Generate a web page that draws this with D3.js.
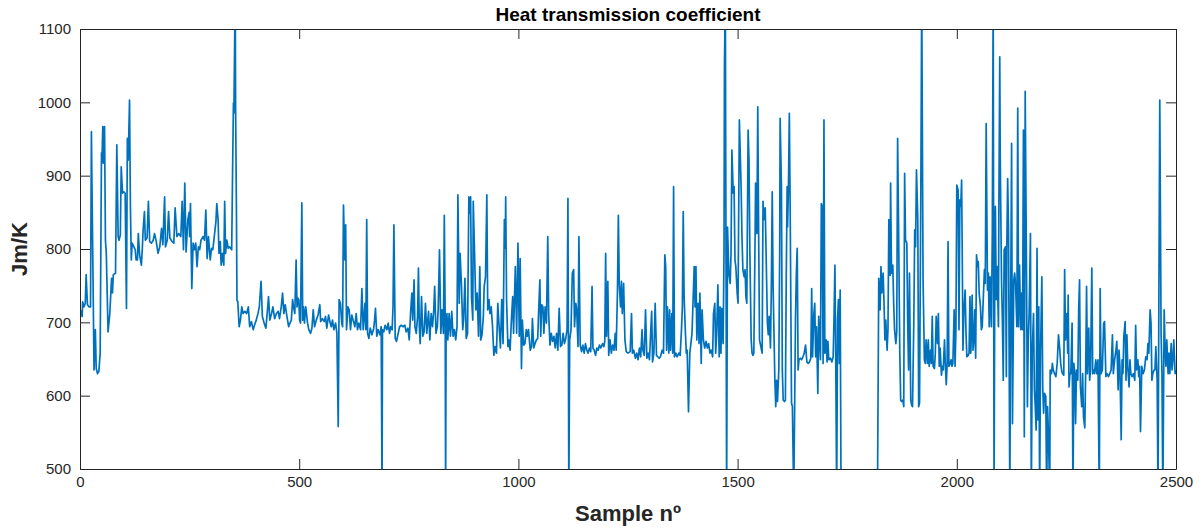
<!DOCTYPE html>
<html>
<head>
<meta charset="utf-8">
<script src="https://cdn.jsdelivr.net/npm/d3@7"></script>
<style>
  body { margin: 0; background: #fff; }
  svg { display: block; font-family: "Liberation Sans", Arial, Helvetica, sans-serif; }
</style>
</head>
<body>
<svg id="chart" width="1202" height="528"></svg>
<script>
// [sample nº, Jm/K], split in runs of ~250 samples
const samplesA = [[1,717],[5,708],[6,728],[9,721],[12,726],[14,765],[17,724],[21,721],[24,721],[26,960],[32,635],[35,690],[37,637],[40,630],[43,633],[46,658],[49,931],[50,917],[52,967],[54,917],[56,967],[58,812],[60,794],[64,687],[68,712],[72,760],[74,740],[76,765],[81,767],[84,942],[87,817],[89,812],[92,819],[94,912],[97,876],[100,878],[103,876],[106,719],[108,951],[110,921],[113,1003],[115,858],[117,785],[119,808],[123,803],[126,799],[128,785],[131,785],[133,821],[136,792],[140,778],[142,799],[144,826],[147,851],[149,812],[153,815],[156,865],[159,810],[163,808],[167,812],[170,821],[174,810],[178,794],[182,803],[186,828],[189,806],[193,871],[195,803],[199,812],[202,851],[205,815],[210,810],[214,808],[217,856],[221,817],[225,821],[230,817],[233,865],[236,799],[239,890],[242,796],[246,840]];
const samplesB = [[249,850],[250,817],[252,862],[255,746],[258,808],[261,799],[264,808],[267,776],[270,803],[273,799],[276,812],[281,817],[284,812],[287,853],[290,787],[293,817],[297,785],[300,801],[303,799],[307,821],[310,837],[312,862],[315,840],[317,794],[320,810],[322,778],[325,794],[328,778],[330,865],[332,794],[335,812],[338,801],[341,803],[346,799],[348,903],[350,999],[351,985],[354,1150],[355,990],[357,840],[358,730],[360,728],[363,694],[366,703],[369,721],[372,712],[376,715],[380,712],[384,721],[387,694],[391,701],[395,690],[398,696],[402,703],[406,712],[409,721],[413,756],[416,708],[420,699],[424,692],[427,712],[430,735],[433,703],[437,712],[440,721],[444,705],[448,712],[452,715],[455,705],[459,721],[462,740],[465,712],[468,724],[472,708],[476,694],[479,699],[482,703],[485,731],[487,721],[490,712],[493,785],[495,721],[497,733]];
const samplesC = [[499,731],[501,703],[503,699],[506,863],[508,703],[510,721],[512,699],[515,721],[519,699],[522,690],[526,685],[529,692],[532,717],[535,694],[539,703],[543,710],[547,724],[549,701],[553,705],[557,701],[560,708],[563,692],[567,710],[570,701],[573,694],[576,703],[579,690],[583,699],[586,685],[589,558],[591,731],[594,726],[597,699],[599,694],[601,860],[604,785],[606,833],[608,690],[611,721],[614,717],[617,690],[620,710],[623,703],[627,694],[630,712],[633,690],[636,699],[640,690],[643,746],[646,690],[648,708],[650,726],[652,690],[654,840],[656,685],[659,678],[662,692],[666,683],[670,692],[672,703],[674,719],[677,681],[680,690],[684,683],[687,694],[689,460],[690,690],[693,687],[696,696],[700,690],[703,699],[706,685],[709,694],[712,690],[714,721],[716,833],[719,678],[722,674],[725,683],[729,694],[733,696],[737,694],[741,696],[744,687],[748,692]];
const samplesD = [[751,676],[754,712],[757,740],[759,703],[762,758],[764,694],[767,685],[770,708],[772,774],[774,694],[776,671],[779,735],[782,681],[785,687],[788,726],[791,685],[795,715],[798,676],[801,712],[804,694],[807,717],[809,749],[812,685],[815,694],[817,717],[820,799],[823,685],[826,717],[829,685],[831,846],[833,703],[834,460],[835,676],[837,712],[839,676],[842,712],[845,681],[848,715],[851,681],[854,690],[857,676],[860,694],[862,874],[865,726],[867,794],[870,753],[873,690],[875,703],[878,760],[881,678],[884,685],[887,871],[889,849],[891,871],[893,735],[896,703],[897,865],[900,794],[903,717],[906,740],[909,681],[912,776],[914,676],[917,683],[920,708],[922,749],[925,762],[928,874],[930,717],[933,731],[935,712],[938,721],[941,694],[944,655],[947,667],[950,658],[953,726],[956,694],[959,665],[962,731],[965,671],[968,840],[970,801],[971,871],[973,731],[976,667],[978,676],[981,662],[984,703],[987,735],[989,685],[993,776],[996,685],[999,808]];
const samplesE = [[1002,681],[1004,787],[1007,637],[1009,703],[1012,669],[1015,671],[1018,690],[1020,681],[1023,690],[1027,662],[1030,667],[1032,705],[1035,665],[1038,671],[1041,676],[1044,678],[1046,712],[1049,758],[1051,681],[1053,724],[1056,721],[1058,685],[1061,721],[1064,699],[1067,817],[1069,712],[1072,669],[1075,685],[1078,674],[1081,681],[1084,665],[1087,685],[1090,662],[1093,719],[1096,667],[1099,669],[1102,685],[1105,671],[1108,678],[1111,690],[1113,869],[1114,685],[1115,460],[1117,676],[1120,690],[1123,767],[1126,772],[1128,694],[1131,726],[1133,717],[1136,667],[1138,817],[1141,669],[1144,660],[1147,669],[1150,658],[1153,671],[1156,662],[1159,658],[1162,665],[1165,660],[1168,749],[1170,665],[1173,662],[1176,655],[1179,665],[1182,662],[1185,669],[1188,665],[1192,671],[1195,667],[1197,674],[1199,794],[1201,681],[1204,756],[1206,655],[1209,676],[1212,658],[1215,669],[1218,662],[1221,685],[1223,662],[1226,744],[1228,846],[1230,753],[1233,721],[1235,756],[1237,712],[1240,753],[1243,676],[1246,660],[1250,658]];
const samplesF = [[1255,660],[1258,712],[1260,658],[1263,662],[1267,651],[1270,658],[1273,649],[1276,665],[1279,653],[1282,690],[1284,662],[1287,655],[1290,717],[1293,651],[1296,658],[1299,649],[1302,690],[1304,715],[1306,646],[1309,658],[1312,726],[1315,655],[1318,653],[1321,651],[1324,653],[1328,662],[1331,658],[1334,792],[1336,776],[1338,662],[1340,721],[1343,658],[1345,717],[1347,662],[1350,712],[1352,658],[1354,885],[1356,653],[1359,658],[1362,653],[1366,658],[1369,655],[1372,690],[1374,721],[1376,851],[1378,735],[1381,685],[1383,658],[1385,662],[1388,578],[1391,658],[1393,669],[1396,685],[1398,721],[1401,776],[1403,721],[1405,776],[1407,676],[1410,726],[1412,671],[1414,740],[1417,644],[1419,717],[1422,676],[1425,665],[1428,674],[1431,665],[1434,671],[1437,658],[1440,662],[1443,653],[1445,712],[1448,726],[1450,658],[1452,681],[1455,751],[1458,653],[1460,721],[1462,658],[1464,719],[1467,671],[1469,794],[1470,1049],[1472,1150],[1475,460],[1477,830],[1480,767],[1483,753],[1485,794],[1487,935],[1490,876],[1492,885],[1494,785],[1496,776],[1499,740]];
const samplesG = [[1501,726],[1504,976],[1508,885],[1510,817],[1512,772],[1515,762],[1517,772],[1519,735],[1521,726],[1524,962],[1526,921],[1528,794],[1531,676],[1533,658],[1535,655],[1537,658],[1540,821],[1541,890],[1544,821],[1546,994],[1548,821],[1550,676],[1553,667],[1556,658],[1558,865],[1560,840],[1563,856],[1565,794],[1568,699],[1570,683],[1572,708],[1575,665],[1577,749],[1579,878],[1581,749],[1585,621],[1587,585],[1589,621],[1591,592],[1594,635],[1596,794],[1597,978],[1600,885],[1602,635],[1604,594],[1607,592],[1609,594],[1611,762],[1613,885],[1614,830],[1616,885],[1618,985],[1620,849],[1623,590],[1625,585],[1628,460],[1630,576],[1632,703],[1634,767],[1636,801],[1638,635],[1640,649],[1643,651],[1646,649],[1649,653],[1652,658],[1655,669],[1658,646],[1661,644],[1664,646],[1667,651],[1669,746],[1671,653],[1674,712],[1676,726],[1678,653],[1680,694],[1683,603],[1685,708],[1687,676],[1689,649],[1691,862],[1693,858],[1695,644],[1697,976],[1699,658],[1702,676],[1704,646],[1706,674],[1708,649],[1712,651],[1715,646],[1718,653],[1720,708],[1722,778],[1724,640],[1726,460],[1728,703],[1730,731],[1732,644],[1734,744],[1736,460]];
const samplesH = [[1819,460],[1822,760],[1825,717],[1827,776],[1829,740],[1832,767],[1834,726],[1836,676],[1838,703],[1841,662],[1843,690],[1845,840],[1848,764],[1849,890],[1851,767],[1854,778],[1856,726],[1858,690],[1861,671],[1863,687],[1865,951],[1867,840],[1870,658],[1872,594],[1874,592],[1877,594],[1879,585],[1881,903],[1883,812],[1886,808],[1888,699],[1890,635],[1892,767],[1895,594],[1897,587],[1899,585],[1902,703],[1904,826],[1906,803],[1908,908],[1911,840],[1913,585],[1915,590],[1918,885],[1920,1150],[1923,760],[1926,649],[1928,644],[1930,676],[1933,644],[1935,676],[1937,640],[1940,662],[1942,644],[1944,708],[1946,640],[1949,637],[1951,658],[1953,708],[1956,671],[1958,712],[1960,640],[1962,665],[1965,628],[1967,640],[1969,635],[1972,676],[1974,640],[1976,615],[1978,644],[1980,810],[1982,640],[1984,642],[1987,649],[1989,640],[1991,644],[1994,717],[1996,640],[1998,690],[2000,887],[2003,880],[2005,690]];
const samplesI = [[2007,867],[2009,858],[2011,894],[2013,749],[2014,662],[2016,712],[2019,744],[2021,685],[2023,653],[2026,655],[2028,658],[2030,735],[2032,658],[2035,737],[2037,662],[2039,676],[2041,717],[2043,651],[2045,792],[2047,776],[2049,783],[2051,740],[2054,721],[2056,690],[2058,694],[2060,726],[2063,772],[2065,753],[2067,971],[2070,744],[2072,767],[2074,694],[2076,762],[2079,694],[2081,821],[2083,1150],[2085,460],[2087,830],[2088,858],[2090,731],[2092,776],[2095,694],[2096,858],[2098,1062],[2099,930],[2102,758],[2104,703],[2106,621],[2108,799],[2111,803],[2113,626],[2114,799],[2116,896],[2118,826],[2121,460],[2123,735],[2125,944],[2127,562],[2130,758],[2132,767],[2134,753],[2137,694],[2139,992],[2141,694],[2143,778],[2146,690],[2148,740],[2150,690],[2152,962],[2154,544],[2156,1015],[2159,767],[2161,585],[2163,676],[2165,712],[2168,821],[2170,460],[2172,658],[2175,712],[2177,608],[2179,585],[2181,553],[2183,801],[2185,567],[2187,721],[2189,460],[2191,658],[2194,762],[2196,612],[2198,576],[2200,603],[2203,599],[2205,460],[2207,585],[2209,549],[2212,460],[2213,635],[2216,630],[2218,644],[2220,635],[2223,630],[2226,626],[2229,644],[2232,683],[2235,662],[2237,644],[2239,635],[2241,630],[2244,628],[2246,772],[2248,676],[2251,712],[2253,658]];
const samplesJ = [[2254,737],[2256,612],[2258,630],[2260,630],[2263,699],[2265,460],[2267,644],[2269,630],[2271,562],[2273,635],[2276,621],[2278,717],[2280,758],[2282,612],[2285,585],[2287,630],[2289,571],[2292,556],[2294,635],[2296,749],[2298,630],[2301,692],[2303,621],[2305,635],[2308,774],[2310,630],[2312,635],[2314,630],[2317,649],[2319,630],[2322,649],[2325,460],[2327,746],[2329,630],[2332,635],[2335,699],[2337,701],[2340,626],[2343,630],[2346,626],[2349,630],[2352,635],[2355,683],[2357,630],[2360,649],[2363,662],[2365,674],[2368,608],[2370,662],[2372,640],[2375,540],[2377,649],[2379,630],[2381,681],[2384,701],[2386,621],[2388,683],[2390,640],[2393,612],[2395,649],[2397,630],[2400,626],[2403,630],[2406,621],[2408,696],[2410,635],[2413,649],[2415,626],[2417,640],[2419,551],[2422,640],[2425,630],[2428,635],[2431,653],[2434,649],[2436,671],[2438,658],[2441,717],[2443,699],[2445,621],[2447,630],[2450,635],[2452,635],[2454,667],[2457,621],[2459,460],[2461,740],[2463,1003],[2466,685],[2468,630],[2470,460],[2473,717],[2475,667],[2477,640],[2479,676],[2482,630],[2484,658],[2486,630],[2489,671],[2491,635],[2493,649],[2495,676],[2498,630],[2500,635]];

const xTicks = [0, 500, 1000, 1500, 2000, 2500];
const yTicks = [500, 600, 700, 800, 900, 1000, 1100];

const series = [].concat(samplesA, samplesB, samplesC, samplesD, samplesE,
    samplesF, samplesG, samplesH, samplesI, samplesJ);

const margin = { top: 29, right: 26, bottom: 59, left: 80 };
const width = 1202, height = 528;
const axisColor = "#262626";

const svg = d3.select("#chart");

const x = d3.scaleLinear().domain([0, 2500]).range([margin.left, width - margin.right]);
const y = d3.scaleLinear().domain([500, 1100]).range([height - margin.bottom, margin.top]);

svg.append("defs").append("clipPath").attr("id", "plotClip")
    .append("rect")
    .attr("x", margin.left).attr("y", margin.top)
    .attr("width", x.range()[1] - x.range()[0])
    .attr("height", y.range()[0] - y.range()[1]);

// data line (clipped, like matlab axes)
svg.append("path")
    .datum(series)
    .attr("clip-path", "url(#plotClip)")
    .attr("fill", "none")
    .attr("stroke", "#0072BD")
    .attr("stroke-width", 1.7)
    .attr("stroke-linejoin", "round")
    .attr("d", d3.line().x(d => x(d[0])).y(d => y(d[1])));

// axes, ticks pointing inwards on all four sides
function styleAxis(g) {
    g.selectAll(".domain").attr("stroke", axisColor).attr("stroke-width", 1).attr("fill", "none");
    g.selectAll(".tick line").attr("stroke", axisColor).attr("stroke-width", 1);
    g.selectAll(".tick text").attr("fill", axisColor).attr("font-size", 15);
}

const fmt = d3.format("d");

svg.append("g")
    .attr("transform", `translate(0,${y.range()[0]})`)
    .call(d3.axisBottom(x).tickValues(xTicks).tickFormat(fmt).tickSizeInner(-10).tickSizeOuter(0).tickPadding(7))
    .call(styleAxis);

svg.append("g")
    .attr("transform", `translate(0,${y.range()[1]})`)
    .call(d3.axisTop(x).tickValues(xTicks).tickSizeInner(-10).tickSizeOuter(0).tickFormat(""))
    .call(styleAxis);

svg.append("g")
    .attr("transform", `translate(${x.range()[0]},0)`)
    .call(d3.axisLeft(y).tickValues(yTicks).tickFormat(fmt).tickSizeInner(-10).tickSizeOuter(0).tickPadding(9))
    .call(styleAxis);

svg.append("g")
    .attr("transform", `translate(${x.range()[1]},0)`)
    .call(d3.axisRight(y).tickValues(yTicks).tickSizeInner(-10).tickSizeOuter(0).tickFormat(""))
    .call(styleAxis);

// titles
const cx = (x.range()[0] + x.range()[1]) / 2;

svg.append("text")
    .attr("x", cx).attr("y", 21)
    .attr("text-anchor", "middle")
    .attr("font-size", 19).attr("font-weight", "bold")
    .attr("fill", "#000")
    .text("Heat transmission coefficient");

svg.append("text")
    .attr("x", cx).attr("y", 521)
    .attr("text-anchor", "middle")
    .attr("font-size", 22).attr("font-weight", "bold")
    .attr("fill", axisColor)
    .text("Sample nº");

svg.append("text")
    .attr("transform", `translate(27,${(y.range()[0] + y.range()[1]) / 2}) rotate(-90)`)
    .attr("text-anchor", "middle")
    .attr("font-size", 22).attr("font-weight", "bold")
    .attr("fill", axisColor)
    .text("Jm/K");
</script>
</body>
</html>
